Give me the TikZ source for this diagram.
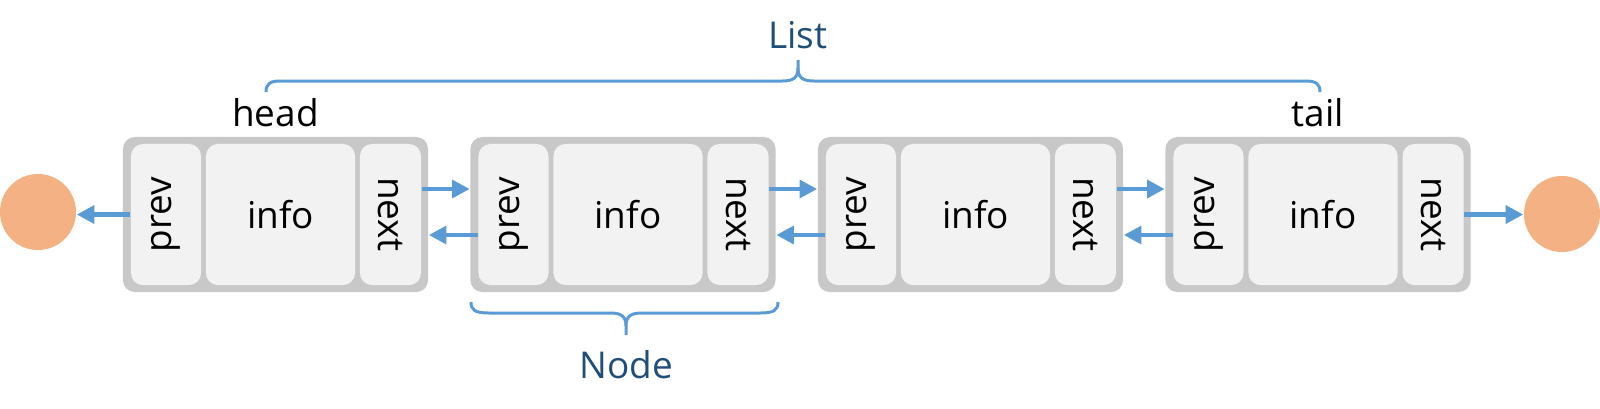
\documentclass[tikz,border=0pt]{standalone}
\usepackage{fontspec}
\setmainfont{Open Sans}
\usetikzlibrary{arrows.meta,calc}

\definecolor{cellgray}{HTML}{F2F2F2}
\definecolor{framegray}{HTML}{C8C8C8}
\definecolor{linkblue}{HTML}{5B9BD5}
\definecolor{nilorange}{HTML}{F4B183}
\definecolor{textblue}{HTML}{1F4E79}

\begin{document}
\begin{tikzpicture}[
    x=0.01cm, y=-0.01cm,
    frame/.style={fill=framegray, rounded corners=0.12cm, minimum width=3.05cm, minimum height=1.55cm, inner sep=0pt},
    cell/.style={fill=cellgray, rounded corners=0.12cm, minimum height=1.41cm, inner sep=0pt, font=\fontsize{10.5}{12}\selectfont},
    link/.style={linkblue, line width=1.4pt, -{Triangle[length=5pt,width=5pt]}},
    nil/.style={circle, fill=nilorange, minimum size=0.76cm, inner sep=0pt},
    brace/.style={linkblue, line width=0.85pt},
    lbl/.style={font=\fontsize{10.5}{12}\selectfont}
]
    \useasboundingbox (0,0) rectangle (1600,408);
    % the four list nodes
    \foreach \i/\L in {1/123,2/470.5,3/818,4/1165.5} {
        \node[frame] (box\i) at ({\L+152.5},214.5) {};
        \node[cell, minimum width=0.70cm] (prev\i) at ({\L+43},214.5) {\rotatebox{90}{prev}};
        \node[cell, minimum width=1.49cm] (info\i) at ({\L+157.5},214.5) {info};
        \node[cell, minimum width=0.61cm] (next\i) at ({\L+267.5},214.5) {\rotatebox{-90}{next}};
    }
    \node[nil] (nilL) at (38,212) {};
    \node[nil] (nilR) at (1562,214) {};
    % links
    \foreach \i/\j in {1/2,2/3,3/4} {
        \draw[link] ($(next\i.east)+(0,-25.5)$) -- ($(box\j.west)+(0,-25.5)$);
        \draw[link] ($(prev\j.west)+(0,20.5)$) -- ($(box\i.east)+(0,20.5)$);
    }
    \draw[link] (prev1.west) -- (prev1.west -| nilL.east);
    \draw[link] (next4.east) -- (next4.east -| nilR.west);
    % labels
    \node[lbl, anchor=base] (head) at ([yshift=0.1cm]box1.north) {head};
    \node[lbl, anchor=base] (tail) at ([yshift=0.1cm]box4.north) {tail};
    \node[lbl, text=textblue, anchor=base] (listlbl) at (798,48) {List};
    \node[lbl, text=textblue, anchor=base] (nodelbl) at (626,378) {Node};
    % braces
    \draw[brace] (266,92) .. controls (266,84) and (270,81) .. (280,81) -- (782,81)
        .. controls (793,81) and (798,78) .. (798,68) -- (798,60);
    \draw[brace] (798,68) .. controls (798,78) and (803,81) .. (814,81) -- (1306,81)
        .. controls (1316,81) and (1320,84) .. (1320,92);
    \draw[brace] (471,302) .. controls (471,310) and (475,313) .. (489,313) -- (610,313)
        .. controls (621,313) and (626,316) .. (626,326) -- (626,335);
    \draw[brace] (626,326) .. controls (626,316) and (631,313) .. (642,313) -- (760,313)
        .. controls (774,313) and (778,310) .. (778,302);
\end{tikzpicture}
\end{document}
